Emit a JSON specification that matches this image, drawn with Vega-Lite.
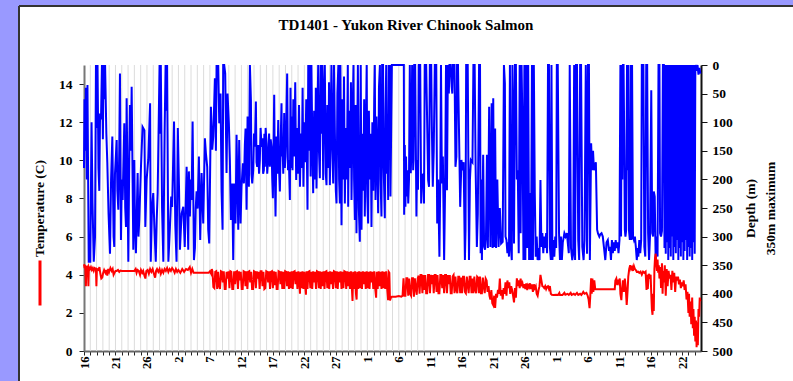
{
  "$schema": "https://vega.github.io/schema/vega-lite/v6.json",
  "autosize": "none",
  "width": 774,
  "height": 375,
  "padding": {"left": 19, "top": 6, "right": 0, "bottom": 0},
  "background": "#9999ff",
  "title": {
    "text": "TD1401 - Yukon River Chinook Salmon",
    "font": "Liberation Serif", "fontSize": 15, "fontWeight": "bold", "color": "#000",
    "anchor": "middle", "frame": "group", "baseline": "alphabetic", "offset": -39
  },
  "config": {
    "view": {"fill": "white", "stroke": "#333", "strokeWidth": 2, "strokeDash": [774, 1149, 375, 0]}
  },
  "datasets": {
    "grid": [{"t":1},{"t":2},{"t":3},{"t":4},{"t":5},{"t":6},{"t":7},{"t":8},{"t":9},{"t":10},{"t":11},{"t":12},{"t":13},{"t":14},{"t":15},{"t":16},{"t":17},{"t":18},{"t":19},{"t":20},{"t":21},{"t":22},{"t":23},{"t":24},{"t":25},{"t":26},{"t":27},{"t":28},{"t":29},{"t":30},{"t":31},{"t":32},{"t":33},{"t":34},{"t":35},{"t":36},{"t":37},{"t":38},{"t":39},{"t":40},{"t":41},{"t":42},{"t":43},{"t":44},{"t":45},{"t":46},{"t":47},{"t":48},{"t":49},{"t":50},{"t":51},{"t":52},{"t":53},{"t":54}],
    "depth": [
      {"t":0.00,"v":180},{"t":0.08,"v":60},{"t":0.18,"v":150},{"t":0.30,"v":40},{"t":0.45,"v":200},{"t":0.55,"v":35},{"t":0.75,"v":344},{"t":1.00,"v":344},{"t":1.20,"v":100},{"t":1.35,"v":240},{"t":1.55,"v":344},{"t":1.75,"v":300},{"t":1.90,"v":0},{"t":2.05,"v":110},{"t":2.15,"v":0},{"t":2.30,"v":180},{"t":2.43,"v":220},{"t":2.55,"v":85},{"t":2.70,"v":95},{"t":2.85,"v":0},{"t":3.00,"v":130},{"t":3.10,"v":0},{"t":3.25,"v":60},{"t":3.35,"v":0},{"t":3.55,"v":120},{"t":3.70,"v":170},{"t":3.90,"v":260},{"t":4.13,"v":330},{"t":4.30,"v":200},{"t":4.50,"v":125},{"t":4.70,"v":300},{"t":4.81,"v":318},{"t":4.92,"v":190},{"t":5.19,"v":131},{"t":5.30,"v":220},{"t":5.45,"v":253},{"t":5.60,"v":150},{"t":5.71,"v":15},{"t":5.87,"v":306},{"t":6.00,"v":200},{"t":6.14,"v":236},{"t":6.40,"v":102},{"t":6.55,"v":250},{"t":6.67,"v":283},{"t":6.77,"v":58},{"t":7.04,"v":344},{"t":7.20,"v":150},{"t":7.30,"v":70},{"t":7.45,"v":150},{"t":7.57,"v":38},{"t":7.83,"v":323},{"t":7.99,"v":166},{"t":8.10,"v":280},{"t":8.25,"v":329},{"t":8.40,"v":250},{"t":8.52,"v":189},{"t":8.65,"v":300},{"t":8.78,"v":271},{"t":9.05,"v":178},{"t":9.30,"v":108},{"t":9.60,"v":114},{"t":9.74,"v":283},{"t":9.95,"v":200},{"t":10.2,"v":166},{"t":10.5,"v":67},{"t":10.6,"v":344},{"t":10.8,"v":250},{"t":11.0,"v":224},{"t":11.2,"v":290},{"t":11.4,"v":344},{"t":11.55,"v":270},{"t":11.7,"v":224},{"t":12.0,"v":0},{"t":12.1,"v":120},{"t":12.2,"v":0},{"t":12.4,"v":250},{"t":12.6,"v":344},{"t":12.8,"v":120},{"t":12.96,"v":0},{"t":13.1,"v":80},{"t":13.2,"v":0},{"t":13.4,"v":344},{"t":13.65,"v":283},{"t":13.85,"v":230},{"t":14.0,"v":248},{"t":14.3,"v":99},{"t":14.5,"v":280},{"t":14.7,"v":344},{"t":14.9,"v":110},{"t":15.1,"v":219},{"t":15.24,"v":323},{"t":15.5,"v":260},{"t":15.77,"v":248},{"t":16.0,"v":318},{"t":16.3,"v":178},{"t":16.56,"v":323},
      {"t":16.66,"v":186},{"t":16.82,"v":265},{"t":16.95,"v":200},{"t":17.09,"v":236},{"t":17.25,"v":99},{"t":17.46,"v":341},{"t":17.62,"v":320},{"t":17.75,"v":250},{"t":17.88,"v":221},{"t":18.04,"v":251},{"t":18.25,"v":160},{"t":18.46,"v":306},{"t":18.68,"v":189},{"t":18.94,"v":277},{"t":19.20,"v":128},{"t":19.36,"v":154},{"t":19.57,"v":178},{"t":19.73,"v":288},{"t":19.89,"v":312},{"t":20.16,"v":73},{"t":20.37,"v":148},{"t":20.53,"v":125},{"t":20.79,"v":23},{"t":20.95,"v":150},{"t":21.06,"v":0},{"t":21.22,"v":17},{"t":21.32,"v":0},{"t":21.48,"v":102},{"t":21.69,"v":50},{"t":21.85,"v":221},{"t":22.01,"v":288},{"t":22.11,"v":0},{"t":22.27,"v":0},{"t":22.43,"v":15},{"t":22.64,"v":189},{"t":22.80,"v":50},{"t":23.01,"v":102},{"t":23.17,"v":166},{"t":23.33,"v":271},{"t":23.54,"v":207},{"t":23.70,"v":341},{"t":23.86,"v":207},{"t":24.07,"v":277},{"t":24.23,"v":122},{"t":24.50,"v":288},{"t":24.65,"v":131},{"t":24.87,"v":277},{"t":25.02,"v":213},{"t":25.24,"v":172},{"t":25.40,"v":207},{"t":25.55,"v":140},{"t":25.66,"v":111},{"t":25.82,"v":253},{"t":25.98,"v":90},{"t":26.10,"v":180},{"t":26.19,"v":213},{"t":26.35,"v":0},{"t":26.51,"v":61},{"t":26.60,"v":190},{"t":26.72,"v":207},{"t":26.88,"v":184},{"t":27.00,"v":120},{"t":27.14,"v":143},{"t":27.30,"v":64},{"t":27.40,"v":170},{"t":27.51,"v":178},{"t":27.67,"v":140},{"t":27.80,"v":190},{"t":27.93,"v":166},{"t":28.05,"v":110},{"t":28.20,"v":143},{"t":28.36,"v":128},{"t":28.45,"v":190},{"t":28.57,"v":184},{"t":28.65,"v":120},{"t":28.73,"v":178},{"t":28.85,"v":110},{"t":28.99,"v":137},{"t":29.10,"v":190},{"t":29.26,"v":163},{"t":29.40,"v":120},{"t":29.52,"v":178},{"t":29.65,"v":130},{"t":29.79,"v":143},{"t":29.90,"v":200},{"t":30.00,"v":233},{"t":30.10,"v":150},{"t":30.21,"v":52},{"t":30.30,"v":180},{"t":30.42,"v":265},{"t":30.58,"v":125},{"t":30.70,"v":190},{"t":30.85,"v":96},{"t":30.95,"v":170},{"t":31.11,"v":221},{"t":31.25,"v":130},{"t":31.37,"v":67},{"t":31.45,"v":160},{"t":31.53,"v":137},{"t":31.65,"v":190},{"t":31.80,"v":84},{"t":31.90,"v":180},{"t":32.01,"v":160},{"t":32.10,"v":120},{"t":32.27,"v":15},{"t":32.40,"v":184},{"t":32.54,"v":166},
      {"t":32.70,"v":236},{"t":32.80,"v":40},{"t":32.90,"v":180},{"t":33.00,"v":90},{"t":33.12,"v":184},{"t":33.25,"v":60},{"t":33.40,"v":160},{"t":33.55,"v":30},{"t":33.70,"v":201},{"t":33.85,"v":110},{"t":34.00,"v":190},{"t":34.15,"v":70},{"t":34.30,"v":213},{"t":34.45,"v":120},{"t":34.60,"v":180},{"t":34.72,"v":40},{"t":34.85,"v":213},{"t":35.00,"v":100},{"t":35.15,"v":170},{"t":35.30,"v":60},{"t":35.50,"v":253},{"t":35.62,"v":0},{"t":35.75,"v":150},{"t":35.87,"v":0},{"t":36.00,"v":195},{"t":36.12,"v":0},{"t":36.25,"v":120},{"t":36.40,"v":224},{"t":36.55,"v":80},{"t":36.70,"v":200},{"t":36.82,"v":40},{"t":36.93,"v":216},{"t":37.05,"v":110},{"t":37.20,"v":0},{"t":37.32,"v":150},{"t":37.46,"v":198},{"t":37.60,"v":0},{"t":37.72,"v":120},{"t":37.85,"v":0},{"t":37.99,"v":201},{"t":38.10,"v":60},{"t":38.25,"v":0},{"t":38.40,"v":190},{"t":38.52,"v":210},{"t":38.65,"v":70},{"t":38.80,"v":180},{"t":38.92,"v":30},{"t":39.05,"v":210},{"t":39.20,"v":90},{"t":39.30,"v":0},{"t":39.45,"v":150},{"t":39.58,"v":207},{"t":39.70,"v":0},{"t":39.85,"v":120},{"t":40.00,"v":220},{"t":40.11,"v":242},{"t":40.25,"v":50},{"t":40.40,"v":0},{"t":40.52,"v":200},{"t":40.64,"v":242},{"t":40.72,"v":0},{"t":40.80,"v":130},{"t":40.90,"v":280},{"t":41.05,"v":60},{"t":41.20,"v":200},{"t":41.30,"v":20},{"t":41.43,"v":242},{"t":41.60,"v":110},{"t":41.75,"v":200},{"t":41.90,"v":0},{"t":41.96,"v":248},{"t":42.10,"v":80},{"t":42.25,"v":180},{"t":42.40,"v":30},{"t":42.49,"v":236},{"t":42.65,"v":100},{"t":42.80,"v":0},{"t":42.90,"v":200},{"t":43.02,"v":271},{"t":43.15,"v":70},{"t":43.28,"v":294},{"t":43.40,"v":130},{"t":43.50,"v":0},{"t":43.65,"v":250},{"t":43.81,"v":309},{"t":43.95,"v":0},{"t":44.08,"v":288},{"t":44.20,"v":120},{"t":44.35,"v":220},{"t":44.50,"v":60},{"t":44.60,"v":265},{"t":44.75,"v":140},{"t":44.90,"v":0},{"t":45.00,"v":230},{"t":45.13,"v":277},{"t":45.25,"v":80},{"t":45.40,"v":200},{"t":45.55,"v":120},{"t":45.66,"v":283},{"t":45.80,"v":100},{"t":45.95,"v":220},{"t":46.10,"v":60},{"t":46.19,"v":0},{"t":46.30,"v":236},{"t":46.45,"v":90},{"t":46.60,"v":180},{"t":46.72,"v":259},{"t":46.85,"v":40},{"t":47.00,"v":0},{"t":47.10,"v":200},{"t":47.25,"v":265},{"t":47.35,"v":0},{"t":47.50,"v":0},{"t":47.60,"v":180},{"t":47.78,"v":268},{"t":47.90,"v":80},{"t":48.00,"v":0},{"t":48.10,"v":190},{"t":48.20,"v":120},{"t":48.31,"v":236},{"t":48.40,"v":0},{"t":48.50,"v":150},{"t":48.60,"v":0},{"t":48.68,"v":230},{"t":48.80,"v":100},{"t":48.90,"v":0},{"t":50.80,"v":0},
      {"t":50.85,"v":262},{"t":50.95,"v":140},{"t":51.05,"v":248},{"t":51.15,"v":160},{"t":51.25,"v":230},{"t":51.38,"v":184},{"t":51.50,"v":242},{"t":51.62,"v":200},{"t":51.75,"v":0},{"t":51.90,"v":189},{"t":52.00,"v":150},{"t":52.12,"v":0},{"t":52.28,"v":184},{"t":52.35,"v":166},{"t":52.45,"v":0},{"t":52.60,"v":0},{"t":52.80,"v":265},{"t":52.90,"v":166},{"t":53.05,"v":218},{"t":53.18,"v":0},{"t":53.40,"v":0},{"t":53.55,"v":242},{"t":53.65,"v":200},{"t":53.87,"v":190},{"t":54.00,"v":242},{"t":54.13,"v":0},{"t":54.35,"v":0},{"t":54.66,"v":201},{"t":54.80,"v":213},{"t":54.93,"v":0},{"t":55.15,"v":0},{"t":55.25,"v":108},{"t":55.40,"v":213},{"t":55.55,"v":150},{"t":55.72,"v":0},{"t":55.95,"v":0},{"t":56.10,"v":277},{"t":56.25,"v":200},{"t":56.45,"v":335},{"t":56.60,"v":190},{"t":56.70,"v":0},{"t":56.85,"v":207},{"t":57.00,"v":160},{"t":57.20,"v":341},{"t":57.35,"v":219},{"t":57.50,"v":0},{"t":57.65,"v":219},{"t":57.80,"v":0},{"t":57.95,"v":50},{"t":58.05,"v":0},{"t":58.25,"v":0},{"t":58.40,"v":38},{"t":58.50,"v":50},{"t":58.60,"v":0},{"t":58.85,"v":0},{"t":59.00,"v":178},{"t":59.15,"v":160},{"t":59.25,"v":0},{"t":59.40,"v":0},{"t":59.75,"v":248},{"t":59.95,"v":166},{"t":60.10,"v":184},{"t":60.30,"v":170},{"t":60.50,"v":341},{"t":60.60,"v":288},{"t":60.70,"v":0},{"t":60.95,"v":0},{"t":61.15,"v":341},{"t":61.30,"v":200},{"t":61.45,"v":166},{"t":61.70,"v":170},{"t":61.85,"v":0},{"t":62.05,"v":0},{"t":62.20,"v":178},{"t":62.40,"v":318},{"t":62.55,"v":260},{"t":62.75,"v":0},{"t":62.90,"v":0},{"t":63.00,"v":329},{"t":63.10,"v":200},{"t":63.20,"v":341},{"t":63.40,"v":157},{"t":63.55,"v":318},{"t":63.70,"v":323},{"t":63.85,"v":300},{"t":64.00,"v":157},{"t":64.15,"v":320},{"t":64.35,"v":73},{"t":64.55,"v":318},{"t":64.75,"v":67},{"t":64.90,"v":320},{"t":65.00,"v":58},{"t":65.15,"v":318},{"t":65.30,"v":111},{"t":65.45,"v":320},{"t":65.65,"v":200},{"t":65.85,"v":318},{"t":66.05,"v":250},{"t":66.25,"v":312},{"t":66.50,"v":309},{"t":66.70,"v":0},
      {"t":66.85,"v":32},{"t":66.95,"v":300},{"t":67.10,"v":306},{"t":67.25,"v":329},{"t":67.40,"v":310},{"t":67.50,"v":335},{"t":67.65,"v":0},{"t":67.80,"v":320},{"t":67.95,"v":341},{"t":68.05,"v":0},{"t":68.15,"v":76},{"t":68.30,"v":312},{"t":68.45,"v":0},{"t":68.60,"v":0},{"t":68.75,"v":200},{"t":68.90,"v":184},{"t":69.05,"v":329},{"t":69.20,"v":0},{"t":69.35,"v":294},{"t":69.50,"v":0},{"t":69.65,"v":110},{"t":69.80,"v":341},{"t":69.95,"v":0},{"t":70.10,"v":341},{"t":70.25,"v":0},{"t":70.40,"v":320},{"t":70.55,"v":0},{"t":70.70,"v":341},{"t":70.85,"v":224},{"t":71.00,"v":341},{"t":71.15,"v":0},{"t":71.30,"v":341},{"t":71.45,"v":0},{"t":71.60,"v":224},{"t":71.75,"v":335},{"t":71.90,"v":300},{"t":72.05,"v":341},{"t":72.20,"v":320},{"t":72.35,"v":341},{"t":72.50,"v":201},{"t":72.65,"v":318},{"t":72.80,"v":294},{"t":72.95,"v":329},{"t":73.10,"v":300},{"t":73.25,"v":320},{"t":73.40,"v":294},{"t":73.55,"v":329},{"t":73.70,"v":0},{"t":73.85,"v":0},{"t":74.00,"v":318},{"t":74.15,"v":341},{"t":74.25,"v":0},{"t":74.40,"v":341},{"t":74.55,"v":306},{"t":74.70,"v":335},{"t":74.85,"v":300},{"t":75.00,"v":320},{"t":75.10,"v":0},{"t":75.25,"v":0},{"t":75.45,"v":294},{"t":75.60,"v":341},{"t":75.75,"v":300},{"t":75.90,"v":341},{"t":76.05,"v":310},{"t":76.30,"v":294},{"t":76.50,"v":300},{"t":76.70,"v":294},{"t":76.85,"v":312},{"t":77.00,"v":329},{"t":77.15,"v":0},{"t":77.35,"v":320},{"t":77.55,"v":341},{"t":77.70,"v":330},{"t":77.85,"v":0},{"t":78.00,"v":341},{"t":78.15,"v":0},{"t":78.30,"v":0},{"t":78.50,"v":306},{"t":78.65,"v":341},{"t":78.80,"v":0},{"t":78.95,"v":0},{"t":79.15,"v":318},{"t":79.35,"v":341},{"t":79.50,"v":306},{"t":79.70,"v":0},{"t":79.90,"v":330},{"t":80.05,"v":0},{"t":80.20,"v":0},{"t":80.35,"v":341},{"t":80.55,"v":137},{"t":80.70,"v":184},{"t":80.85,"v":150},{"t":81.00,"v":184},{"t":81.15,"v":178},{"t":81.30,"v":170},{"t":81.50,"v":288},{"t":81.65,"v":295},{"t":81.85,"v":300},{"t":82.00,"v":296},{"t":82.20,"v":294},{"t":82.40,"v":300},{"t":82.60,"v":320},{"t":82.80,"v":341},{"t":83.00,"v":310},{"t":83.20,"v":306},{"t":83.40,"v":325},
      {"t":83.55,"v":318},{"t":83.70,"v":341},{"t":83.85,"v":306},{"t":84.00,"v":329},{"t":84.15,"v":310},{"t":84.30,"v":325},{"t":84.45,"v":306},{"t":84.60,"v":320},{"t":84.75,"v":310},{"t":84.90,"v":329},{"t":85.05,"v":306},{"t":85.20,"v":0},{"t":85.30,"v":300},{"t":85.40,"v":0},{"t":85.50,"v":200},{"t":85.60,"v":0},{"t":85.70,"v":0},{"t":85.80,"v":120},{"t":85.90,"v":288},{"t":86.00,"v":300},{"t":86.10,"v":290},{"t":86.25,"v":0},{"t":86.35,"v":184},{"t":86.45,"v":0},{"t":86.55,"v":288},{"t":86.70,"v":306},{"t":86.85,"v":0},{"t":86.95,"v":306},{"t":87.05,"v":0},{"t":87.20,"v":300},{"t":87.35,"v":306},{"t":87.50,"v":300},{"t":87.65,"v":318},{"t":87.80,"v":341},{"t":87.95,"v":320},{"t":88.05,"v":335},{"t":88.20,"v":306},{"t":88.35,"v":329},{"t":88.50,"v":306},{"t":88.60,"v":0},{"t":88.70,"v":0},{"t":88.85,"v":0},{"t":89.00,"v":318},{"t":89.15,"v":335},{"t":89.30,"v":0},{"t":89.45,"v":0},{"t":89.60,"v":294},{"t":89.75,"v":341},{"t":89.90,"v":300},{"t":90.10,"v":44},{"t":90.25,"v":294},{"t":90.40,"v":300},{"t":90.50,"v":221},{"t":90.65,"v":230},{"t":90.80,"v":341},{"t":90.95,"v":300},{"t":91.10,"v":335},{"t":91.25,"v":0},{"t":91.40,"v":0},{"t":91.50,"v":294},{"t":91.65,"v":300},{"t":91.80,"v":290},{"t":91.95,"v":0},{"t":92.10,"v":0},{"t":92.20,"v":320},{"t":92.30,"v":0},{"t":92.40,"v":330},{"t":92.50,"v":0},{"t":92.60,"v":310},{"t":92.70,"v":0},{"t":92.80,"v":341},{"t":92.90,"v":0},{"t":93.00,"v":320},{"t":93.10,"v":0},{"t":93.20,"v":335},{"t":93.30,"v":0},{"t":93.40,"v":300},{"t":93.50,"v":0},{"t":93.60,"v":341},{"t":93.70,"v":0},{"t":93.80,"v":318},{"t":93.90,"v":0},{"t":94.00,"v":329},{"t":94.10,"v":0},{"t":94.20,"v":306},{"t":94.30,"v":0},{"t":94.40,"v":341},{"t":94.50,"v":0},{"t":94.60,"v":320},{"t":94.70,"v":0},{"t":94.80,"v":335},{"t":94.90,"v":0},{"t":95.00,"v":310},{"t":95.10,"v":0},{"t":95.20,"v":341},{"t":95.30,"v":0},{"t":95.40,"v":325},{"t":95.50,"v":0},{"t":95.60,"v":306},{"t":95.70,"v":0},{"t":95.80,"v":341},{"t":95.90,"v":0},{"t":96.00,"v":318},{"t":96.10,"v":0},{"t":96.20,"v":335},{"t":96.30,"v":0},{"t":96.40,"v":320},{"t":96.50,"v":0},{"t":96.60,"v":341},{"t":96.70,"v":0},{"t":96.80,"v":310},{"t":96.90,"v":0},{"t":97.00,"v":330},{"t":97.10,"v":0},{"t":97.30,"v":10},{"t":97.45,"v":0},{"t":97.60,"v":17},{"t":97.75,"v":5},{"t":97.90,"v":15}
    ],
    "temp": [
      {"t":0.00,"v":4.55},{"t":0.10,"v":4.35},{"t":0.20,"v":4.50},{"t":0.30,"v":3.40},{"t":0.38,"v":4.40},{"t":0.50,"v":4.35},{"t":0.62,"v":4.42},{"t":0.70,"v":3.40},{"t":0.78,"v":4.40},{"t":0.95,"v":4.30},{"t":1.10,"v":4.40},{"t":1.25,"v":4.25},{"t":1.40,"v":4.35},{"t":1.55,"v":4.20},{"t":1.70,"v":4.35},{"t":1.90,"v":4.30},{"t":1.97,"v":3.40},{"t":2.05,"v":4.30},{"t":2.30,"v":4.25},{"t":2.45,"v":4.40},{"t":2.60,"v":4.05},{"t":2.75,"v":3.80},{"t":2.90,"v":3.85},{"t":3.05,"v":4.10},{"t":3.20,"v":4.25},{"t":3.40,"v":4.10},{"t":3.55,"v":4.25},{"t":3.70,"v":3.95},{"t":3.85,"v":4.30},{"t":4.00,"v":4.15},{"t":4.20,"v":4.35},{"t":4.40,"v":4.20},{"t":4.55,"v":4.30},{"t":4.70,"v":4.00},{"t":4.85,"v":4.10},{"t":5.00,"v":4.20},{"t":5.20,"v":4.20},{"t":5.40,"v":4.25},{"t":5.60,"v":4.15},{"t":5.80,"v":4.22},{"t":6.00,"v":4.20},{"t":8.00,"v":4.20},{"t":8.20,"v":4.30},{"t":8.35,"v":4.10},{"t":8.50,"v":4.25},{"t":8.70,"v":4.20},{"t":8.90,"v":4.00},{"t":9.05,"v":4.25},{"t":9.25,"v":4.10},{"t":9.40,"v":4.20},{"t":9.60,"v":3.95},{"t":9.75,"v":3.80},{"t":9.90,"v":4.20},{"t":10.10,"v":4.25},{"t":10.30,"v":4.05},{"t":10.50,"v":4.30},{"t":10.70,"v":4.15},{"t":10.90,"v":4.30},{"t":11.10,"v":4.05},{"t":11.30,"v":3.85},{"t":11.45,"v":4.20},{"t":11.60,"v":4.30},{"t":11.80,"v":4.15},{"t":12.00,"v":4.30},{"t":12.20,"v":4.05},{"t":12.40,"v":4.25},{"t":12.60,"v":4.10},{"t":12.80,"v":4.30},{"t":13.00,"v":4.20},{"t":13.20,"v":4.35},{"t":13.40,"v":4.15},{"t":13.60,"v":4.30},{"t":13.80,"v":4.20},{"t":14.00,"v":4.35},{"t":14.20,"v":4.25},{"t":14.40,"v":4.10},{"t":14.60,"v":4.30},{"t":14.80,"v":4.15},{"t":15.00,"v":4.25},{"t":15.30,"v":4.10},{"t":15.60,"v":4.30},{"t":15.90,"v":4.15},{"t":16.20,"v":4.30},{"t":16.50,"v":4.25},{"t":16.80,"v":4.40},{"t":17.00,"v":4.10},{"t":17.20,"v":4.30},{"t":17.40,"v":4.10},{"t":19.80,"v":4.10},{"t":20.00,"v":4.18},{"t":20.20,"v":4.05},{"t":20.30,"v":4.30},
      {"t":20.40,"v":4.18},{"t":20.55,"v":3.35},{"t":20.70,"v":3.30},{"t":20.85,"v":4.15},{"t":21.00,"v":4.18},{"t":21.15,"v":3.25},{"t":21.30,"v":4.15},{"t":21.45,"v":3.40},{"t":21.60,"v":3.25},{"t":21.75,"v":4.18},{"t":21.90,"v":4.15},{"t":22.05,"v":3.60},{"t":22.20,"v":4.18},{"t":22.35,"v":3.25},{"t":22.50,"v":3.25},{"t":22.65,"v":4.15},{"t":22.80,"v":3.80},{"t":22.95,"v":4.18},{"t":23.10,"v":3.30},{"t":23.25,"v":4.18},{"t":23.40,"v":4.15},{"t":23.55,"v":3.25},{"t":23.70,"v":3.25},{"t":23.85,"v":4.18},{"t":24.00,"v":3.50},{"t":24.15,"v":4.15},{"t":24.30,"v":4.18},{"t":24.45,"v":3.25},{"t":24.60,"v":4.18},{"t":24.75,"v":3.70},{"t":24.90,"v":4.15},{"t":25.05,"v":3.25},{"t":25.20,"v":3.25},{"t":25.35,"v":4.18},{"t":25.50,"v":4.15},{"t":25.65,"v":3.40},{"t":25.80,"v":4.18},{"t":25.95,"v":3.25},{"t":26.10,"v":4.15},{"t":26.25,"v":4.18},{"t":26.40,"v":3.60},{"t":26.55,"v":4.15},{"t":26.70,"v":3.25},{"t":26.85,"v":3.25},{"t":27.00,"v":4.18},{"t":27.15,"v":4.15},{"t":27.30,"v":3.30},{"t":27.45,"v":4.18},{"t":27.60,"v":3.80},{"t":27.75,"v":4.15},{"t":27.90,"v":3.25},{"t":28.05,"v":4.18},{"t":28.20,"v":4.18},{"t":28.35,"v":3.40},{"t":28.50,"v":4.15},{"t":28.65,"v":3.25},{"t":28.80,"v":3.30},{"t":28.95,"v":4.18},{"t":29.10,"v":4.15},{"t":29.25,"v":3.60},{"t":29.40,"v":4.18},{"t":29.55,"v":3.25},{"t":29.70,"v":4.15},{"t":29.85,"v":4.18},{"t":30.00,"v":3.30},{"t":30.15,"v":4.18},{"t":30.30,"v":3.45},{"t":30.45,"v":4.15},{"t":30.60,"v":3.25},{"t":30.75,"v":3.25},{"t":30.90,"v":4.18},{"t":31.05,"v":4.15},{"t":31.20,"v":3.50},{"t":31.35,"v":4.18},{"t":31.50,"v":3.25},{"t":31.65,"v":4.15},{"t":31.80,"v":3.25},{"t":31.95,"v":4.18},{"t":32.10,"v":4.15},{"t":32.25,"v":3.40},{"t":32.40,"v":4.18},{"t":32.55,"v":3.25},{"t":32.70,"v":4.15},{"t":32.85,"v":3.30},{"t":33.00,"v":4.18},{"t":33.15,"v":3.25},{"t":33.30,"v":4.15},{"t":33.45,"v":4.18},{"t":33.60,"v":3.50},{"t":33.75,"v":4.15},{"t":33.90,"v":3.25},{"t":34.05,"v":4.18},{"t":34.20,"v":3.60},{"t":34.30,"v":3.00},{"t":34.40,"v":4.15},{"t":34.55,"v":3.30},{"t":34.70,"v":4.18},{"t":34.85,"v":3.25},{"t":35.00,"v":4.15},{"t":35.15,"v":3.35},{"t":35.25,"v":2.95},{"t":35.35,"v":4.18},{"t":35.50,"v":3.25},{"t":35.65,"v":4.15},{"t":35.80,"v":4.18},{"t":35.95,"v":3.30},{"t":36.10,"v":4.15},{"t":36.25,"v":3.25},{"t":36.40,"v":4.18},{"t":36.55,"v":3.60},{"t":36.70,"v":4.15},{"t":36.85,"v":3.25},{"t":37.00,"v":4.18},{"t":37.15,"v":4.15},{"t":37.30,"v":3.30},{"t":37.45,"v":4.18},{"t":37.60,"v":3.25},{"t":37.75,"v":4.15},{"t":37.90,"v":3.40},{"t":38.05,"v":4.18},{"t":38.20,"v":3.25},{"t":38.35,"v":4.15},{"t":38.50,"v":4.18},{"t":38.65,"v":3.30},{"t":38.80,"v":4.15},{"t":38.95,"v":3.25},{"t":39.10,"v":4.18},{"t":39.25,"v":3.50},{"t":39.40,"v":4.15},{"t":39.55,"v":3.25},{"t":39.70,"v":4.18},{"t":39.85,"v":4.15},{"t":40.00,"v":3.30},{"t":40.15,"v":4.18},{"t":40.30,"v":3.25},{"t":40.45,"v":4.15},{"t":40.60,"v":3.60},{"t":40.75,"v":4.18},{"t":40.90,"v":3.25},{"t":41.05,"v":4.15},{"t":41.20,"v":3.30},{"t":41.35,"v":4.18},{"t":41.50,"v":4.15},{"t":41.65,"v":3.25},{"t":41.80,"v":4.18},{"t":41.95,"v":3.40},{"t":42.10,"v":4.15},{"t":42.25,"v":3.25},{"t":42.40,"v":4.18},{"t":42.55,"v":3.30},{"t":42.65,"v":2.62},{"t":42.75,"v":4.15},{"t":42.90,"v":3.25},{"t":43.05,"v":4.18},{"t":43.20,"v":3.00},{"t":43.30,"v":2.70},{"t":43.40,"v":4.15},{"t":43.55,"v":3.25},{"t":43.70,"v":4.18},{"t":43.85,"v":3.30},{"t":44.00,"v":4.15},{"t":44.15,"v":3.25},{"t":44.30,"v":4.18},{"t":44.45,"v":3.50},{"t":44.60,"v":4.15},{"t":44.75,"v":3.25},{"t":44.90,"v":4.18},{"t":45.05,"v":3.30},{"t":45.20,"v":4.15},{"t":45.35,"v":3.25},{"t":45.50,"v":4.18},{"t":45.65,"v":3.60},{"t":45.80,"v":4.15},{"t":45.95,"v":3.25},{"t":46.10,"v":4.18},{"t":46.25,"v":3.30},{"t":46.40,"v":2.80},{"t":46.50,"v":4.15},{"t":46.65,"v":3.25},{"t":46.80,"v":4.18},{"t":46.95,"v":3.40},{"t":47.10,"v":4.15},{"t":47.25,"v":3.25},{"t":47.40,"v":4.18},{"t":47.55,"v":3.30},{"t":47.70,"v":4.15},{"t":47.85,"v":3.25},{"t":48.00,"v":4.18},{"t":48.15,"v":3.30},{"t":48.30,"v":2.67},{"t":48.40,"v":4.15},{"t":48.50,"v":4.10},{"t":48.60,"v":2.65},{"t":48.75,"v":2.80},{"t":48.90,"v":2.85},{"t":49.50,"v":2.85},{"t":50.00,"v":2.88},{"t":50.40,"v":2.85},{"t":50.60,"v":2.90},{"t":50.75,"v":3.81},
      {"t":50.90,"v":2.90},{"t":51.05,"v":2.90},{"t":51.20,"v":3.81},{"t":51.35,"v":3.81},{"t":51.50,"v":2.90},{"t":51.65,"v":3.80},{"t":51.80,"v":3.00},{"t":51.95,"v":2.90},{"t":52.10,"v":3.81},{"t":52.25,"v":3.81},{"t":52.40,"v":2.85},{"t":52.55,"v":3.81},{"t":52.70,"v":3.30},{"t":52.85,"v":2.95},{"t":53.00,"v":3.81},{"t":53.15,"v":3.95},{"t":53.30,"v":3.00},{"t":53.45,"v":3.98},{"t":53.60,"v":3.98},{"t":53.75,"v":3.03},{"t":53.90,"v":3.98},{"t":54.05,"v":3.20},{"t":54.20,"v":3.98},{"t":54.35,"v":3.03},{"t":54.50,"v":3.03},{"t":54.65,"v":3.98},{"t":54.80,"v":3.98},{"t":54.95,"v":3.03},{"t":55.10,"v":4.00},{"t":55.25,"v":3.50},{"t":55.40,"v":3.98},{"t":55.55,"v":3.03},{"t":55.70,"v":3.98},{"t":55.85,"v":3.98},{"t":56.00,"v":3.10},{"t":56.15,"v":3.98},{"t":56.30,"v":3.03},{"t":56.45,"v":3.03},{"t":56.60,"v":3.98},{"t":56.75,"v":3.98},{"t":56.90,"v":3.30},{"t":57.05,"v":3.98},{"t":57.20,"v":3.03},{"t":57.35,"v":3.98},{"t":57.50,"v":3.98},{"t":57.65,"v":3.03},{"t":57.80,"v":3.98},{"t":57.95,"v":3.50},{"t":58.10,"v":3.98},{"t":58.25,"v":3.03},{"t":58.40,"v":3.03},{"t":58.55,"v":3.90},{"t":58.70,"v":3.98},{"t":58.85,"v":3.03},{"t":59.00,"v":3.90},{"t":59.15,"v":3.20},{"t":59.30,"v":3.03},{"t":59.45,"v":3.90},{"t":59.60,"v":3.90},{"t":59.75,"v":3.03},{"t":59.90,"v":3.85},{"t":60.05,"v":3.03},{"t":60.20,"v":3.90},{"t":60.35,"v":3.90},{"t":60.50,"v":3.10},{"t":60.65,"v":3.03},{"t":60.80,"v":3.90},{"t":60.95,"v":3.50},{"t":61.10,"v":3.03},{"t":61.25,"v":3.90},{"t":61.40,"v":3.90},{"t":61.55,"v":3.03},{"t":61.70,"v":3.80},{"t":61.85,"v":3.03},{"t":62.00,"v":3.90},{"t":62.15,"v":3.20},{"t":62.30,"v":3.03},{"t":62.45,"v":3.90},{"t":62.60,"v":3.85},{"t":62.75,"v":3.03},{"t":62.90,"v":3.90},{"t":63.05,"v":3.03},{"t":63.20,"v":3.03},{"t":63.35,"v":3.85},{"t":63.50,"v":3.40},{"t":63.65,"v":3.03},{"t":63.80,"v":3.80},{"t":63.95,"v":3.70},{"t":64.10,"v":3.10},{"t":64.25,"v":3.40},{"t":64.40,"v":2.90},{"t":64.55,"v":2.70},{"t":64.70,"v":3.20},{"t":64.85,"v":2.50},{"t":65.00,"v":2.40},{"t":65.15,"v":2.90},{"t":65.30,"v":2.26},{"t":65.45,"v":3.00},{"t":65.60,"v":2.80},{"t":65.75,"v":3.20},{"t":65.90,"v":3.00},{"t":66.05,"v":3.80},{"t":66.20,"v":2.90},{"t":66.35,"v":3.20},{"t":66.50,"v":2.70},{"t":66.65,"v":3.30},{"t":66.80,"v":3.00},{"t":66.95,"v":3.60},{"t":67.10,"v":2.90},{"t":67.25,"v":3.70},{"t":67.40,"v":3.30},{"t":67.55,"v":3.60},{"t":67.70,"v":3.00},{"t":67.85,"v":3.40},{"t":68.00,"v":3.20},{"t":68.15,"v":2.90},{"t":68.30,"v":2.55},{"t":68.45,"v":3.30},{"t":68.60,"v":2.80},{"t":68.75,"v":3.81},{"t":68.90,"v":3.40},{"t":69.05,"v":3.70},{"t":69.20,"v":3.30},{"t":69.35,"v":3.80},{"t":69.50,"v":3.40},{"t":69.65,"v":3.55},{"t":69.80,"v":3.30},{"t":69.95,"v":3.50},{"t":70.10,"v":3.25},{"t":70.25,"v":3.55},{"t":70.40,"v":3.20},{"t":70.55,"v":3.45},{"t":70.70,"v":3.35},{"t":70.85,"v":3.55},{"t":71.00,"v":3.25},{"t":71.15,"v":3.50},{"t":71.30,"v":3.10},{"t":71.45,"v":3.50},{"t":71.60,"v":3.30},{"t":71.75,"v":3.40},{"t":71.90,"v":3.00},{"t":72.05,"v":2.90},{"t":72.20,"v":3.20},{"t":72.35,"v":3.40},{"t":72.50,"v":3.99},{"t":72.65,"v":3.70},{"t":72.80,"v":3.40},{"t":72.95,"v":3.37},{"t":73.10,"v":3.30},{"t":73.25,"v":3.40},{"t":73.40,"v":3.25},{"t":73.55,"v":3.37},{"t":73.70,"v":3.40},{"t":73.85,"v":3.25},{"t":74.00,"v":3.40},{"t":74.15,"v":3.00},{"t":74.30,"v":2.95},{"t":74.60,"v":2.94},{"t":75.00,"v":2.95},{"t":75.30,"v":2.94},{"t":75.50,"v":3.05},{"t":75.60,"v":2.94},{"t":76.00,"v":2.94},{"t":76.30,"v":3.05},{"t":76.45,"v":2.95},{"t":76.80,"v":3.00},{"t":77.00,"v":2.94},{"t":77.30,"v":3.05},{"t":77.45,"v":2.94},{"t":77.80,"v":3.00},{"t":78.00,"v":2.94},{"t":78.30,"v":3.05},{"t":78.50,"v":2.94},{"t":78.80,"v":3.00},{"t":79.00,"v":2.94},{"t":79.30,"v":3.10},{"t":79.50,"v":3.00},{"t":79.80,"v":3.05},{"t":80.00,"v":2.90},{"t":80.15,"v":2.70},{"t":80.30,"v":2.25},{"t":80.40,"v":2.80},{"t":80.55,"v":3.81},{"t":80.65,"v":3.00},{"t":80.75,"v":3.80},{"t":80.90,"v":3.10},{"t":81.05,"v":3.70},{"t":81.20,"v":3.24},{"t":84.30,"v":3.24},{"t":84.40,"v":3.70},{"t":84.55,"v":3.80},{"t":84.70,"v":3.45},{"t":84.80,"v":3.75},{"t":84.95,"v":3.60},{"t":85.10,"v":3.80},{"t":85.20,"v":3.00},{"t":85.35,"v":2.67},{"t":85.45,"v":3.20},{"t":85.60,"v":3.70},{"t":85.75,"v":3.10},{"t":85.90,"v":3.80},{"t":86.05,"v":3.30},{"t":86.20,"v":2.41},{"t":86.35,"v":3.20},{"t":86.45,"v":3.90},{"t":86.60,"v":4.30},{"t":86.75,"v":4.50},{"t":86.90,"v":4.30},{"t":87.05,"v":4.40},{"t":87.20,"v":4.20},{"t":87.35,"v":4.45},{"t":87.50,"v":4.30},{"t":87.65,"v":4.25},{"t":87.80,"v":4.15},{"t":88.00,"v":4.16},{"t":88.20,"v":4.10},{"t":88.40,"v":4.16},{"t":88.60,"v":4.00},{"t":88.80,"v":4.16},{"t":89.00,"v":4.10},{"t":89.20,"v":4.16},{"t":89.35,"v":3.20},{"t":89.45,"v":4.00},{"t":89.55,"v":3.25},{"t":89.70,"v":4.05},{"t":89.85,"v":3.90},{"t":90.00,"v":4.00},{"t":90.10,"v":3.00},{"t":90.20,"v":2.20},{"t":90.30,"v":1.90},{"t":90.40,"v":3.00},{"t":90.50,"v":2.10},{"t":90.60,"v":4.30},{"t":90.70,"v":4.90},{"t":90.80,"v":5.10},{"t":90.90,"v":4.60},{"t":91.00,"v":4.20},{"t":91.10,"v":4.80},{"t":91.20,"v":4.10},{"t":91.30,"v":4.50},{"t":91.40,"v":3.80},{"t":91.55,"v":4.40},{"t":91.65,"v":3.30},{"t":91.80,"v":4.60},{"t":91.90,"v":3.00},{"t":92.00,"v":4.20},{"t":92.10,"v":3.60},{"t":92.25,"v":4.50},{"t":92.40,"v":2.90},{"t":92.55,"v":4.30},{"t":92.70,"v":3.40},{"t":92.85,"v":4.20},{"t":93.00,"v":3.80},{"t":93.15,"v":4.00},{"t":93.30,"v":3.20},{"t":93.45,"v":4.20},{"t":93.60,"v":3.60},{"t":93.75,"v":4.10},{"t":93.90,"v":3.10},{"t":94.05,"v":3.90},{"t":94.20,"v":3.70},{"t":94.35,"v":3.90},{"t":94.50,"v":3.50},{"t":94.65,"v":3.75},{"t":94.80,"v":3.30},{"t":94.95,"v":3.60},{"t":95.10,"v":3.40},{"t":95.25,"v":3.70},{"t":95.40,"v":3.20},{"t":95.55,"v":3.50},{"t":95.70,"v":2.70},{"t":95.85,"v":3.10},{"t":96.00,"v":2.00},{"t":96.10,"v":3.00},{"t":96.20,"v":1.80},{"t":96.35,"v":2.60},{"t":96.45,"v":1.40},{"t":96.60,"v":2.80},{"t":96.70,"v":1.20},{"t":96.80,"v":2.20},{"t":96.90,"v":0.80},{"t":97.00,"v":1.80},{"t":97.10,"v":0.50},{"t":97.20,"v":1.60},{"t":97.30,"v":0.20},{"t":97.40,"v":1.50},{"t":97.50,"v":0.30},{"t":97.60,"v":2.20},{"t":97.70,"v":1.80},{"t":97.80,"v":2.80},{"t":97.90,"v":2.60}
    ]
  },
  "encoding": {
    "x": {
      "field": "t", "type": "quantitative",
      "scale": {"domain": [0, 98], "range": [65, 682], "nice": false, "zero": false},
      "axis": {
        "orient": "bottom", "offset": -30, "title": null, "grid": false,
        "values": [0,1,2,3,4,5,6,7,8,9,10,11,12,13,14,15,16,17,18,19,20,21,22,23,24,25,26,27,28,29,30,31,32,33,34,35,36,37,38,39,40,41,42,43,44,45,46,47,48,49,50,51,52,53,54,55,56,57,58,59,60,61,62,63,64,65,66,67,68,69,70,71,72,73,74,75,76,77,78,79,80,81,82,83,84,85,86,87,88,89,90,91,92,93,94,95,96,97],
        "labelExpr": "datum.value % 5 === 0 ? ['16','21','26','2','7','12','17','22','27','1','6','11','16','21','26','1','6','11','16','22'][datum.value / 5] : ''",
        "labelAngle": 270, "labelAlign": "right", "labelBaseline": "middle",
        "labelFlush": false, "labelOverlap": false, "labelPadding": 1,
        "labelFont": "Liberation Serif", "labelFontWeight": "bold", "labelFontSize": 12.5, "labelColor": "#000",
        "tickSize": 4, "tickColor": "#222", "domainColor": "#666", "domainWidth": 2
      }
    }
  },
  "layer": [
    {
      "data": {"name": "grid"},
      "mark": {"type": "rule", "color": "#dcdcdc", "strokeWidth": 1},
      "encoding": {
        "y": {"datum": 0, "type": "quantitative", "scale": {"domain": [0, 15], "range": [345, 59], "nice": false}, "axis": null},
        "y2": {"datum": 15}
      }
    },
    {
      "data": {"name": "depth"},
      "mark": {"type": "line", "strokeWidth": 2, "interpolate": "linear"},
      "encoding": {
        "y": {
          "field": "v", "type": "quantitative",
          "scale": {"domain": [0, 500], "range": [59, 345], "nice": false, "zero": false},
          "axis": {
            "orient": "right", "offset": -92, "grid": false,
            "values": [0,50,100,150,200,250,300,350,400,450,500],
            "tickSize": 6, "tickColor": "#111", "domainColor": "#111", "domainWidth": 2,
            "labelPadding": 5, "labelFont": "Liberation Serif", "labelFontWeight": "bold", "labelFontSize": 13.5, "labelColor": "#000",
            "title": ["Depth (m)", "350m maximum"], "titleAngle": 270, "titleBaseline": "top", "titleLineHeight": 20,
            "titleFont": "Liberation Serif", "titleFontWeight": "bold", "titleFontSize": 13.5, "titleColor": "#000", "titlePadding": -9
          }
        },
        "color": {"datum": "Depth (m)", "type": "nominal"}
      }
    },
    {
      "data": {"name": "temp"},
      "mark": {"type": "line", "strokeWidth": 2, "interpolate": "linear"},
      "encoding": {
        "y": {
          "field": "v", "type": "quantitative",
          "scale": {"domain": [0, 15], "range": [345, 59], "nice": false, "zero": false},
          "axis": {
            "orient": "left", "offset": -65, "grid": false,
            "values": [0,2,4,6,8,10,12,14],
            "tickSize": 5, "tickColor": "#222", "domainColor": "#777", "domainWidth": 2,
            "labelPadding": 7, "labelFont": "Liberation Serif", "labelFontWeight": "bold", "labelFontSize": 13.5, "labelColor": "#000",
            "title": "Temperature (C)", "titleFont": "Liberation Serif", "titleFontWeight": "bold", "titleFontSize": 13.5, "titleColor": "#000", "titlePadding": 12
          }
        },
        "color": {
          "datum": "Temperature (C)", "type": "nominal",
          "scale": {"domain": ["Depth (m)", "Temperature (C)"], "range": ["#0000ff", "#ff0000"]},
          "legend": {
            "values": ["Temperature (C)"], "orient": "none", "legendX": -3, "legendY": 253,
            "title": null, "padding": 0, "labelExpr": "''", "labelFontSize": 1,
            "symbolType": "M0,-1L0,1", "symbolSize": 2025, "symbolStrokeWidth": 3, "symbolStrokeColor": "#ff0000"
          }
        }
      }
    }
  ],
  "resolve": {"scale": {"y": "independent"}}
}
